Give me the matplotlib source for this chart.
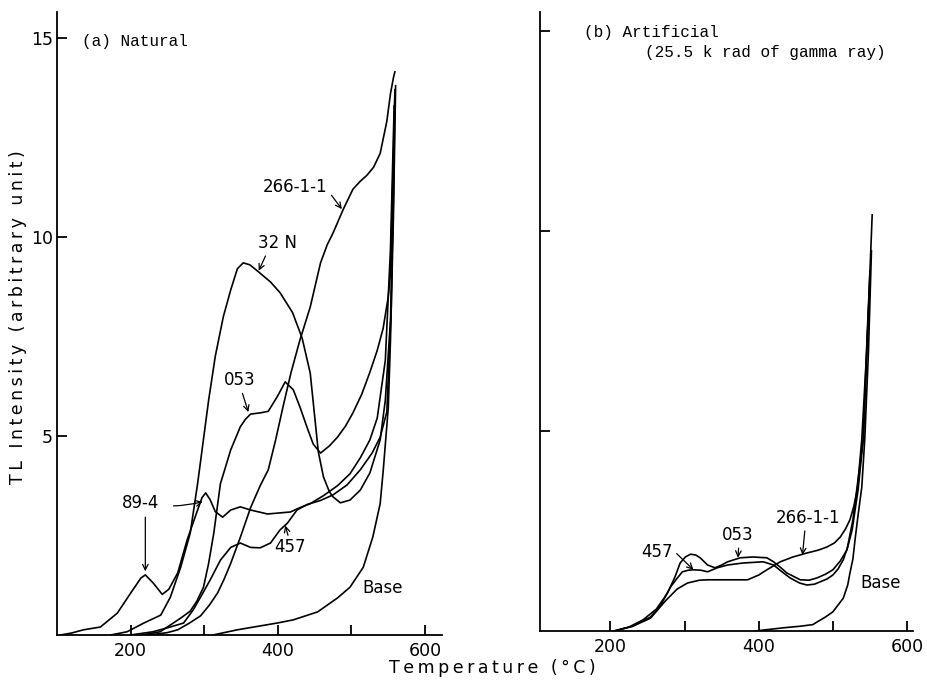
import numpy as np
import matplotlib
matplotlib.use('Agg')
import matplotlib.pyplot as plt

# (a) Natural -- temperature (deg C) and TL intensity
t_894 = [105, 120, 136, 159, 182, 200, 214, 220, 231, 243, 252, 264, 277, 291, 297, 302, 308, 315, 325,
         336, 349, 363, 386, 417, 430, 444, 462, 481, 498, 512, 525, 535, 546, 553, 558]
i_894 = [0, 0.05, 0.13, 0.2, 0.55, 1.05, 1.43, 1.51, 1.3, 1.02, 1.15, 1.56, 2.4, 3.14, 3.45, 3.57, 3.4, 3.1, 2.96,
         3.14, 3.22, 3.14, 3.04, 3.09, 3.2, 3.3, 3.5, 3.75, 4.05, 4.45, 4.9, 5.45, 6.9, 9.7, 13.3]

t_32n = [173, 195, 218, 241, 254, 268, 281, 291, 296, 301, 306, 315, 326, 336, 345, 353, 362, 374, 390, 403, 420,
         433, 444, 450, 455, 462, 470, 475, 485, 498, 512, 525, 539, 546, 553, 557, 559]
i_32n = [0, 0.08, 0.3, 0.5, 0.95, 1.7, 2.56, 3.8, 4.5, 5.2, 5.9, 7.0, 8.0, 8.67, 9.2, 9.35, 9.3, 9.12, 8.87, 8.6, 8.1,
         7.46, 6.58, 5.5, 4.6, 3.97, 3.6, 3.47, 3.32, 3.39, 3.64, 4.07, 4.9, 5.9, 7.9, 10.9, 13.6]

t_053 = [215, 240, 258, 270, 281, 290, 299, 306, 313, 322, 336, 349, 356, 363, 376, 387, 399, 410, 421, 430,
         440, 448, 458, 470, 481, 492, 502, 514, 525, 535, 543, 550, 553, 557, 559]
i_053 = [0, 0.08, 0.3, 0.45, 0.6, 0.85, 1.2, 1.8, 2.56, 3.8, 4.65, 5.23, 5.42, 5.55, 5.58, 5.62, 5.98, 6.36, 6.16, 5.73,
         5.2, 4.8, 4.57, 4.75, 4.97, 5.25, 5.58, 6.05, 6.6, 7.15, 7.7, 8.5, 9.1, 12.0, 13.7]

t_266 = [225, 250, 264, 280, 295, 307, 318, 327, 336, 349, 363, 376, 387, 397, 407, 418, 430, 444, 458, 467,
         475, 489, 502, 512, 521, 530, 539, 548, 553, 557, 559]
i_266 = [0, 0.06, 0.13, 0.3, 0.48, 0.75, 1.05, 1.4, 1.8, 2.45, 3.2, 3.75, 4.15, 4.9, 5.73, 6.6, 7.41, 8.24, 9.35, 9.8,
         10.1, 10.7, 11.2, 11.4, 11.55, 11.75, 12.1, 12.9, 13.6, 14.0, 14.15]

t_457 = [200, 230, 250, 272, 285, 295, 308, 322, 336, 349, 363, 376, 390, 403, 413, 426, 440, 458, 475, 494,
         512, 528, 539, 548, 554, 558]
i_457 = [0, 0.08, 0.18, 0.3, 0.63, 0.95, 1.38, 1.88, 2.2, 2.31, 2.2, 2.19, 2.31, 2.64, 2.81, 3.14, 3.28, 3.38, 3.52, 3.77,
         4.15, 4.57, 4.97, 5.6, 8.2, 12.6]

t_base = [312, 345, 399, 421, 454, 481, 498, 516, 529, 539, 543, 550, 553, 557, 560]
i_base = [0, 0.13, 0.3, 0.38, 0.58, 0.93, 1.2, 1.7, 2.46, 3.3, 4.1, 5.7, 7.4, 10.5, 13.8]

# (b) Artificial, 25.5 k rad gamma
rt_053 = [205, 225, 244, 262, 277, 287, 294, 301, 308, 315, 321, 331, 341, 350, 358, 375, 392, 411, 420, 430,
          438, 456, 468, 479, 490, 500, 510, 519, 527, 534, 541, 546, 550, 553]
ri_053 = [0, 0.1, 0.28, 0.55, 0.95, 1.35, 1.7, 1.85, 1.92, 1.9, 1.83, 1.65, 1.58, 1.65, 1.73, 1.83, 1.85, 1.83, 1.73, 1.58,
          1.45, 1.28, 1.27, 1.33, 1.42, 1.53, 1.75, 2.03, 2.78, 3.8, 4.8, 7.3, 9.0, 10.4]

rt_457 = [205, 230, 254, 268, 281, 290, 297, 305, 312, 322, 331, 344, 358, 379, 406, 420, 430, 442, 455, 465,
          475, 483, 492, 500, 507, 514, 520, 526, 534, 541, 546, 550]
ri_457 = [0, 0.12, 0.35, 0.65, 1.1, 1.32, 1.48, 1.52, 1.53, 1.52, 1.48, 1.58, 1.65, 1.7, 1.73, 1.65, 1.5, 1.33, 1.2, 1.15,
          1.17, 1.23, 1.3, 1.4, 1.55, 1.78, 2.1, 2.53, 3.53, 4.8, 7.0, 9.0]

rt_266 = [205, 230, 254, 274, 290, 304, 320, 331, 350, 370, 385, 400, 411, 420, 429, 446, 465, 480, 492, 502,
          510, 517, 523, 528, 533, 539, 545, 550]
ri_266 = [0, 0.12, 0.32, 0.75, 1.05, 1.2, 1.27, 1.28, 1.28, 1.28, 1.28, 1.4, 1.53, 1.63, 1.73, 1.85, 1.95, 2.02, 2.1, 2.2,
          2.35, 2.55, 2.78, 3.1, 3.53, 4.8, 6.8, 8.8]

rt_base = [395, 433, 456, 473, 479, 490, 500, 507, 514, 520, 523, 527, 530, 534, 539, 543, 548, 552]
ri_base = [0, 0.08, 0.12, 0.16, 0.23, 0.35, 0.48, 0.65, 0.82, 1.15, 1.45, 1.8, 2.3, 2.9, 3.6, 4.8, 7.0, 9.5]

x_ticks = [200, 300, 400, 500, 600]
x_labels = ['200', '', '400', '', '600']
y_ticks = [5, 10, 15]

mono = 'Liberation Mono'
lab = dict(fontsize=12, family='DejaVu Sans')
arr = dict(arrowstyle='->', lw=0.9, color='black', mutation_scale=10)


def spaced(s):
    return '\u2009'.join(s)


fig = plt.figure(figsize=(9.28, 6.83), dpi=100)
ax1 = fig.add_axes([0.0614, 0.0703, 0.4149, 0.912])
ax2 = fig.add_axes([0.5819, 0.0761, 0.4019, 0.9063])

for ax in (ax1, ax2):
    for s in ('top', 'right'):
        ax.spines[s].set_visible(False)
    for s in ('left', 'bottom'):
        ax.spines[s].set_linewidth(1.3)
    ax.tick_params(direction='in', length=7, width=1.3, labelsize=12.5, pad=5)
    ax.tick_params(axis='y', pad=3)
    ax.set_xticks(x_ticks)
    ax.set_xticklabels(x_labels)
    ax.set_yticks(y_ticks)

ax1.set_xlim(100, 623)
ax1.set_ylim(0, 15.65)
ax2.set_xlim(105, 608)
ax2.set_ylim(0, 15.47)
ax2.set_yticklabels([])

lw = 1.2
for t, i in [(t_894, i_894), (t_32n, i_32n), (t_053, i_053), (t_266, i_266), (t_457, i_457), (t_base, i_base)]:
    ax1.plot(t, i, color='black', lw=lw)
for t, i in [(rt_053, ri_053), (rt_457, ri_457), (rt_266, ri_266), (rt_base, ri_base)]:
    ax2.plot(t, i, color='black', lw=lw)

# labels, panel (a)
ax1.text(134, 14.9, '(a) Natural', family=mono, fontsize=11.5, va='center')
ax1.annotate('266-1-1', xy=(487, 10.7), xytext=(424, 11.26), ha='center', va='center',
             arrowprops=dict(arr, relpos=(1, 0.3), shrinkA=1, shrinkB=0), **lab)
ax1.annotate('32 N', xy=(374, 9.15), xytext=(399, 9.85), ha='center', va='center',
             arrowprops=dict(arr, relpos=(0.25, 0), shrinkA=1, shrinkB=0), **lab)
ax1.annotate('053', xy=(360, 5.6), xytext=(348, 6.4), ha='center', va='center',
             arrowprops=dict(arr, relpos=(0.55, 0), shrinkA=1, shrinkB=0), **lab)
ax1.annotate('89-4', xy=(298, 3.35), xytext=(214, 3.32), ha='center', va='center',
             arrowprops=dict(arr, connectionstyle='arc3,rad=0.12', shrinkA=8, shrinkB=0), **lab)
ax1.annotate('', xy=(220, 1.6), xytext=(220, 2.96), arrowprops=dict(arr, shrinkA=0, shrinkB=0))
ax1.annotate('457', xy=(410, 2.75), xytext=(417, 2.21), ha='center', va='center',
             arrowprops=dict(arr, relpos=(0.45, 1), shrinkA=0, shrinkB=0), **lab)
ax1.text(543, 1.18, 'Base', ha='center', va='center', **lab)

# labels, panel (b)
ax2.text(164, 14.95, '(b) Artificial', family=mono, fontsize=11.5, va='center')
ax2.text(247, 14.45, '(25.5 k rad of gamma ray)', family=mono, fontsize=11.5, va='center')
ax2.annotate('457', xy=(312, 1.53), xytext=(263, 1.98), ha='center', va='center',
             arrowprops=dict(arr, relpos=(1, 0.6), shrinkA=1, shrinkB=0), **lab)
ax2.annotate('053', xy=(372, 1.83), xytext=(371, 2.4), ha='center', va='center',
             arrowprops=dict(arr, relpos=(0.55, 0), shrinkA=1, shrinkB=0), **lab)
ax2.annotate('266-1-1', xy=(459, 1.9), xytext=(467, 2.83), ha='center', va='center',
             arrowprops=dict(arr, relpos=(0.45, 0), shrinkA=1, shrinkB=0), **lab)
ax2.text(564, 1.2, 'Base', ha='center', va='center', **lab)

fig.text(0.019, 0.535, spaced('TL Intensity (arbitrary unit)'), rotation=90,
         ha='center', va='center', fontsize=12.5, family='DejaVu Sans')
fig.text(0.530, 0.022, spaced('Temperature (°C)'), ha='center', va='center',
         fontsize=12.5, family='DejaVu Sans')

fig.savefig('out.png', dpi=100)
